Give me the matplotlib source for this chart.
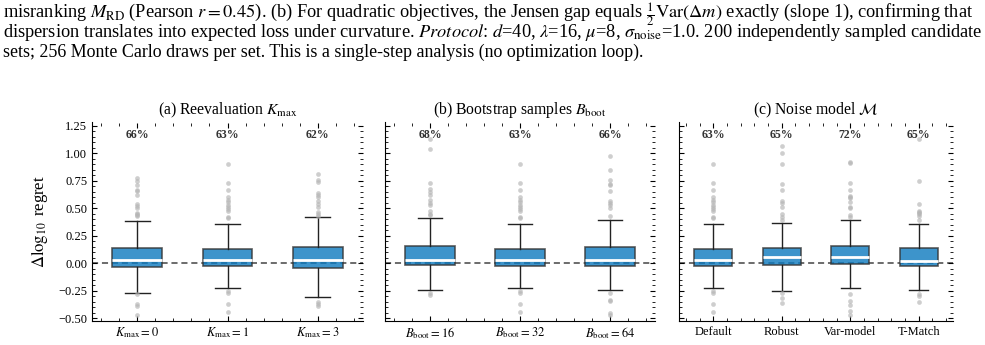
import matplotlib
matplotlib.use("Agg")
import matplotlib.pyplot as plt
from matplotlib.ticker import AutoMinorLocator, MultipleLocator

plt.rcParams["font.family"] = ["Liberation Serif", "DejaVu Serif"]
plt.rcParams["mathtext.fontset"] = "stix"

# panel (a): reevaluation K_max
a_labels = [r"$K_{\rm max}=0$", r"$K_{\rm max}=1$", r"$K_{\rm max}=3$"]
a_q1 = [-0.030, -0.024, -0.043]
a_med = [0.033, 0.027, 0.033]
a_q3 = [0.143, 0.133, 0.148]
a_lo = [-0.270, -0.219, -0.303]
a_hi = [0.382, 0.361, 0.418]
a_fliers = [
    [0.78, 0.75, 0.71, 0.67, 0.66, 0.62, 0.54, 0.52, 0.50, 0.46, 0.45, 0.44, 0.43, -0.28, -0.37, -0.39, -0.47],
    [0.90, 0.73, 0.67, 0.60, 0.58, 0.56, 0.53, 0.51, 0.49, 0.48, 0.42, 0.41, -0.25, -0.27, -0.37, -0.44],
    [0.81, 0.76, 0.74, 0.64, 0.62, 0.60, 0.57, 0.54, 0.51, 0.47, 0.45, 0.43, -0.35, -0.37, -0.39],
]
a_pct = [66, 63, 62]

# panel (b): bootstrap samples
b_labels = [r"$B_{\rm boot}=16$", r"$B_{\rm boot}=32$", r"$B_{\rm boot}=64$"]
b_q1 = [-0.018, -0.024, -0.024]
b_med = [0.033, 0.027, 0.033]
b_q3 = [0.157, 0.133, 0.148]
b_lo = [-0.237, -0.219, -0.240]
b_hi = [0.409, 0.361, 0.391]
b_fliers = [
    [1.13, 1.04, 0.73, 0.68, 0.65, 0.62, 0.58, 0.55, 0.53, 0.48, 0.45, 0.44, -0.27, -0.29],
    [0.90, 0.73, 0.67, 0.60, 0.58, 0.56, 0.53, 0.51, 0.49, 0.48, 0.42, 0.41, -0.25, -0.27, -0.37, -0.44],
    [0.98, 0.85, 0.76, 0.72, 0.71, 0.66, 0.57, 0.55, 0.53, 0.50, 0.43, -0.27, -0.33, -0.34, -0.45, -0.47],
]
b_pct = [68, 63, 66]

# panel (c): noise model
c_labels = ["Default", "Robust", "Var-model", "T-Match"]
c_q1 = [-0.024, -0.018, -0.006, -0.024]
c_med = [0.027, 0.054, 0.063, 0.024]
c_q3 = [0.133, 0.142, 0.157, 0.142]
c_lo = [-0.219, -0.249, -0.219, -0.237]
c_hi = [0.361, 0.367, 0.397, 0.361]
c_fliers = [
    [0.90, 0.73, 0.67, 0.60, 0.58, 0.56, 0.53, 0.51, 0.49, 0.48, 0.42, 0.41, -0.25, -0.27, -0.37, -0.44],
    [1.07, 1.00, 0.90, 0.72, 0.67, 0.57, 0.55, 0.51, 0.45, 0.42, 0.39, -0.27, -0.31, -0.36],
    [0.92, 0.91, 0.73, 0.67, 0.61, 0.60, 0.59, 0.56, 0.51, 0.50, 0.44, 0.42, -0.28, -0.34, -0.38, -0.43, -0.47],
    [1.13, 0.75, 0.54, 0.48, 0.47, 0.46, 0.45, 0.43, 0.39, -0.28, -0.30, -0.35],
]
c_pct = [63, 65, 72, 65]

panels = [
    ("(a) Reevaluation $K_{\\rm max}$", a_labels, a_q1, a_med, a_q3, a_lo, a_hi, a_fliers, a_pct),
    ("(b) Bootstrap samples $B_{\\rm boot}$", b_labels, b_q1, b_med, b_q3, b_lo, b_hi, b_fliers, b_pct),
    ("(c) Noise model $\\mathcal{M}$", c_labels, c_q1, c_med, c_q3, c_lo, c_hi, c_fliers, c_pct),
]

caption = [
    r"misranking $M_{\rm RD}$ (Pearson $r=0.45$). (b) For quadratic objectives, the Jensen gap equals $\frac{1}{2}\mathrm{Var}(\Delta m)$ exactly (slope 1), confirming that",
    r"dispersion translates into expected loss under curvature. $\mathit{Protocol}$: $d$=40, $\lambda$=16, $\mu$=8, $\sigma_{\rm noise}$=1.0. 200 independently sampled candidate",
    r"sets; 256 Monte Carlo draws per set. This is a single-step analysis (no optimization loop).",
]
caption_size = [13.2, 13.2, 12.9]

fig = plt.figure(figsize=(9.85, 3.45), dpi=100)
for i, line in enumerate(caption):
    fig.text(0.003, 1 - (17.5 + 19.5 * i) / 345, line, fontsize=caption_size[i],
             va="baseline", ha="left")

lefts = [92, 385, 679]
widths = [271, 270, 274]
for k, (title, labels, q1, med, q3, lo, hi, fl, pct) in enumerate(panels):
    ax = fig.add_axes([lefts[k] / 985, 1 - 320.7 / 345, widths[k] / 985, 198.2 / 345])
    stats = []
    for j in range(len(labels)):
        stats.append(dict(q1=q1[j], med=med[j], q3=q3[j], whislo=lo[j], whishi=hi[j],
                          fliers=fl[j], label=labels[j]))
    ax.axhline(0, color="#444444", ls="--", lw=1.1, dashes=(4, 2.5), zorder=1)
    ax.bxp(stats, widths=0.55, patch_artist=True, manage_ticks=True,
           boxprops=dict(facecolor="#0c7abf", edgecolor="#333333", lw=1.2, alpha=0.8),
           medianprops=dict(color="white", lw=2),
           whiskerprops=dict(color="#222222", lw=1.0),
           capprops=dict(color="#222222", lw=1.0),
           flierprops=dict(marker="o", markersize=3.4, markerfacecolor="#b5b5b5",
                           markeredgecolor="none", alpha=0.65))
    for j, p in enumerate(pct):
        ax.text(j + 1, 1.165, f"{p}%", ha="center", va="center", fontsize=8.5,
                fontweight="bold", color="#333333")
    ax.set_xlim(0.5, len(labels) + 0.5)
    ax.set_ylim(-0.52, 1.28)
    ax.yaxis.set_major_locator(MultipleLocator(0.25))
    ax.yaxis.set_minor_locator(AutoMinorLocator(5))
    ax.xaxis.set_minor_locator(AutoMinorLocator(5))
    ax.tick_params(which="both", direction="in", top=True, right=True, labelsize=9)
    ax.tick_params(which="major", length=3.5)
    ax.tick_params(which="minor", length=2)
    ax.spines["top"].set_visible(False)
    ax.spines["right"].set_visible(False)
    ax.set_title(title, fontsize=11.3, pad=6)
    if k == 0:
        ax.set_ylabel(r"$\Delta\log_{10}$ regret", fontsize=12, labelpad=6)
    else:
        ax.set_yticklabels([])

fig.savefig("out.png", dpi=100)
